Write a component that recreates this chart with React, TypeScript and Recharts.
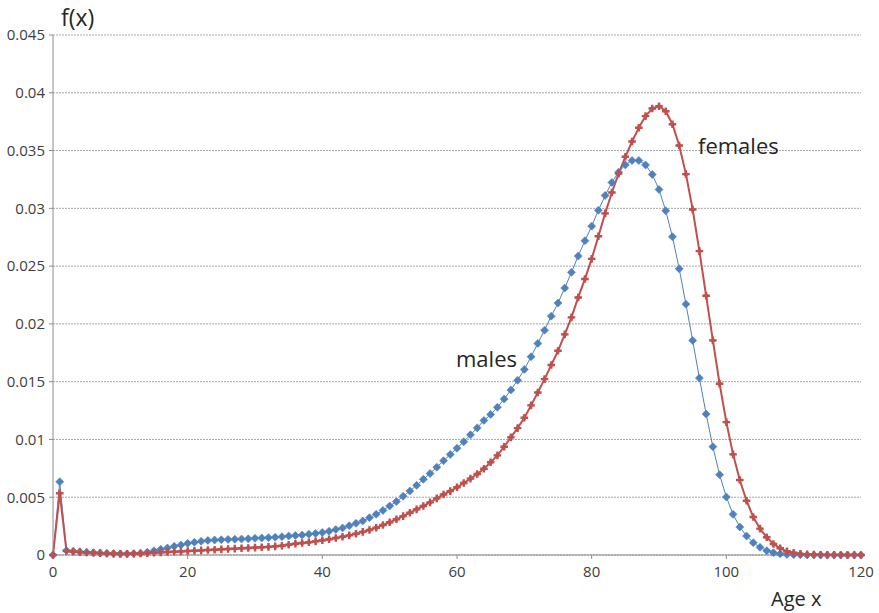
import { LineChart, Line, XAxis, YAxis, CartesianGrid } from "recharts"

// age 0..120, one value per year
const males = [
  0, 0.00634, 0.0004, 0.00032, 0.00028, 0.00024, 0.0002, 0.00018, 0.00015, 0.00012,
  0.0001, 0.0001, 0.00012, 0.00016, 0.00024, 0.00037, 0.00049, 0.00061, 0.00075, 0.00087,
  0.00101, 0.0011, 0.00118, 0.00126, 0.0013, 0.00132, 0.00135, 0.00136, 0.00138, 0.0014,
  0.00144, 0.00147, 0.0015, 0.00154, 0.00159, 0.00164, 0.00168, 0.00173, 0.0018, 0.00187,
  0.00195, 0.00206, 0.0022, 0.00234, 0.00254, 0.00274, 0.00295, 0.00323, 0.00352, 0.00386,
  0.00424, 0.00462, 0.00508, 0.00554, 0.00603, 0.00655, 0.00705, 0.0076, 0.00816, 0.0087,
  0.00924, 0.0098, 0.0104, 0.011, 0.01165, 0.01216, 0.01278, 0.0135, 0.01428, 0.01512,
  0.01606, 0.01716, 0.01831, 0.01946, 0.02067, 0.0218, 0.0231, 0.02446, 0.02587, 0.0272,
  0.02846, 0.02983, 0.03111, 0.03224, 0.03313, 0.03376, 0.03414, 0.03414, 0.03376, 0.03293,
  0.03163, 0.02979, 0.02754, 0.02477, 0.02171, 0.01857, 0.01531, 0.0122, 0.00937, 0.00695,
  0.00502, 0.00352, 0.00242, 0.00164, 0.00107, 0.00066, 0.00037, 0.0002, 0.0001, 0.00005,
  0.00003, 0.00002, 0.00001, 0.00001, 0, 0, 0, 0, 0, 0,
  0,
]

const females = [
  0, 0.00534, 0.00035, 0.0003, 0.00025, 0.00021, 0.00019, 0.00016, 0.00013, 0.00011,
  0.0001, 0.0001, 0.00011, 0.00013, 0.00016, 0.0002, 0.00023, 0.00026, 0.00029, 0.00031,
  0.00034, 0.00037, 0.0004, 0.00043, 0.00046, 0.00049, 0.00052, 0.00055, 0.00058, 0.00061,
  0.00064, 0.00067, 0.0007, 0.00075, 0.0008, 0.00089, 0.00097, 0.00104, 0.0011, 0.00118,
  0.00127, 0.00136, 0.00147, 0.00158, 0.0017, 0.00184, 0.002, 0.00216, 0.00236, 0.00259,
  0.00283, 0.00309, 0.00336, 0.00366, 0.00395, 0.00424, 0.00455, 0.0049, 0.00524, 0.00553,
  0.00586, 0.00623, 0.00661, 0.00701, 0.00747, 0.00802, 0.00862, 0.00937, 0.01018, 0.01098,
  0.01188, 0.01295, 0.01406, 0.01522, 0.01644, 0.01767, 0.01909, 0.02056, 0.02229, 0.02389,
  0.02563, 0.02758, 0.02956, 0.03137, 0.033, 0.03446, 0.03578, 0.03697, 0.03798, 0.03864,
  0.03884, 0.0384, 0.03728, 0.03544, 0.03296, 0.0299, 0.0263, 0.02243, 0.01857, 0.01482,
  0.0115, 0.00871, 0.00649, 0.0047, 0.00329, 0.00228, 0.00153, 0.00095, 0.00058, 0.00032,
  0.0002, 0.0001, 0.00005, 0.00003, 0.00002, 0.00001, 0.00001, 0, 0, 0,
  0,
]

const xTicks = [0, 20, 40, 60, 80, 100, 120]
const yTicks = [0, 0.005, 0.01, 0.015, 0.02, 0.025, 0.03, 0.035, 0.04, 0.045]

const data = males.map((m, i) => ({ age: i, males: m, females: females[i] }))

const BLUE = "#4f81bd"
const RED = "#c0504d"
const FONT = "'Open Sans', sans-serif"

function Diamond(props: any) {
  const { cx, cy } = props
  if (cx == null || cy == null) return null
  return <path d={`M${cx},${cy - 4}L${cx + 4},${cy}L${cx},${cy + 4}L${cx - 4},${cy}Z`} fill={BLUE} stroke={BLUE} strokeWidth={0.6} />
}

// red markers: small diamond with a cross through it
function Cross(props: any) {
  const { cx, cy } = props
  if (cx == null || cy == null) return null
  const a = 3.8
  const w = 1.2
  return (
    <g fill={RED}>
      <path d={`M${cx},${cy - 3}L${cx + 3},${cy}L${cx},${cy + 3}L${cx - 3},${cy}Z`} />
      <path
        d={`M${cx - w},${cy - a}H${cx + w}V${cy - w}H${cx + a}V${cy + w}H${cx + w}V${cy + a}H${cx - w}V${cy + w}H${cx - a}V${cy - w}H${cx - w}Z`}
      />
    </g>
  )
}

const textStyle = {
  position: "absolute" as const,
  fontFamily: FONT,
  color: "#262626",
  lineHeight: 1,
  whiteSpace: "nowrap" as const,
}

export default function App() {
  return (
    <div style={{ position: "absolute", left: 0, top: 0, width: 879, height: 613, background: "#fff" }}>
      <LineChart width={879} height={613} data={data} margin={{ top: 35, right: 18, bottom: 0, left: 0 }}>
        <CartesianGrid vertical={false} stroke="#a6a6a6" strokeDasharray="2 1" />
        <XAxis
          dataKey="age"
          type="number"
          domain={[0, 120]}
          ticks={xTicks}
          height={58}
          stroke="#8c8c8c"
          tickSize={4}
          tickMargin={7}
          tick={{ fill: "#404040", fontSize: 15, fontFamily: FONT }}
        />
        <YAxis
          domain={[0, 0.045]}
          ticks={yTicks}
          width={53}
          stroke="#8c8c8c"
          tickSize={4}
          tickMargin={4}
          tick={{ fill: "#404040", fontSize: 15, fontFamily: FONT }}
        />
        <Line
          type="linear"
          dataKey="males"
          stroke={BLUE}
          strokeWidth={1}
          dot={<Diamond />}
          activeDot={false}
          isAnimationActive={false}
        />
        <Line
          type="linear"
          dataKey="females"
          stroke={RED}
          strokeWidth={2}
          dot={<Cross />}
          activeDot={false}
          isAnimationActive={false}
        />
      </LineChart>
      <div style={{ ...textStyle, left: 61, top: 6, fontSize: 23 }}>f(x)</div>
      <div style={{ ...textStyle, left: 456, top: 347, fontSize: 22 }}>males</div>
      <div style={{ ...textStyle, left: 698, top: 134, fontSize: 22 }}>females</div>
      <div style={{ ...textStyle, left: 771, top: 589, fontSize: 20 }}>Age x</div>
    </div>
  )
}
